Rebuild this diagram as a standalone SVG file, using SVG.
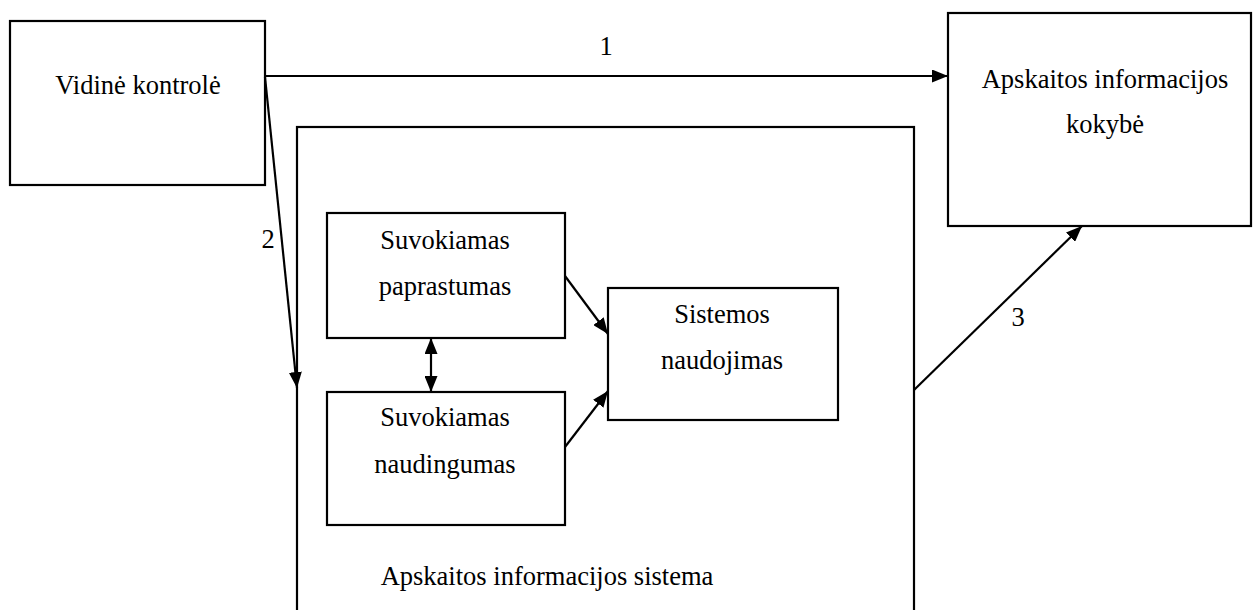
<svg xmlns="http://www.w3.org/2000/svg" width="1253" height="610" viewBox="0 0 1253 610">
<style>
.box{fill:#fff;stroke:#000;stroke-width:2.2}
.t{font-family:"Liberation Serif","Times New Roman",serif;font-size:26.5px;fill:#000;text-anchor:middle}
.c{stroke:#000;stroke-width:2.2;fill:none}
</style>
<defs>
<marker id="ah" viewBox="0 0 16 13" refX="16" refY="6.5" markerWidth="16" markerHeight="13" markerUnits="userSpaceOnUse" orient="auto-start-reverse">
<path d="M0,0 L16,6.5 L0,13 Z" fill="#000"/>
</marker>
</defs>
<rect width="1253" height="610" fill="#fff"/>
<g id="sistema">
<rect class="box" x="297" y="127" width="617" height="520"/>
<text class="t" x="547" y="585">Apskaitos informacijos sistema</text>
</g>
<g id="vidine">
<rect class="box" x="10" y="21" width="255" height="164"/>
<text class="t" x="138" y="94">Vidinė kontrolė</text>
</g>
<g id="kokybe">
<rect class="box" x="948" y="13" width="303" height="213"/>
<text class="t" x="1105" y="88">Apskaitos informacijos</text>
<text class="t" x="1105" y="133">kokybė</text>
</g>
<g id="paprastumas">
<rect class="box" x="327" y="213" width="238" height="125"/>
<text class="t" x="445" y="249">Suvokiamas</text>
<text class="t" x="445" y="295">paprastumas</text>
</g>
<g id="naudingumas">
<rect class="box" x="327" y="392" width="238" height="133"/>
<text class="t" x="445" y="426">Suvokiamas</text>
<text class="t" x="445" y="473">naudingumas</text>
</g>
<g id="naudojimas">
<rect class="box" x="608" y="288" width="230" height="132"/>
<text class="t" x="722" y="323">Sistemos</text>
<text class="t" x="722" y="369">naudojimas</text>
</g>
<g id="connectors">
<line class="c" x1="265" y1="76" x2="948" y2="76" marker-end="url(#ah)"/>
<text class="t" x="606" y="55">1</text>
<line class="c" x1="265" y1="77" x2="297" y2="388" marker-end="url(#ah)"/>
<text class="t" x="268" y="248">2</text>
<line class="c" x1="431" y1="338" x2="431" y2="392" marker-start="url(#ah)" marker-end="url(#ah)"/>
<line class="c" x1="565" y1="276" x2="608" y2="334" marker-end="url(#ah)"/>
<line class="c" x1="565" y1="447" x2="608" y2="391" marker-end="url(#ah)"/>
<line class="c" x1="914" y1="390" x2="1082" y2="226" marker-end="url(#ah)"/>
<text class="t" x="1018" y="326">3</text>
</g>
</svg>
